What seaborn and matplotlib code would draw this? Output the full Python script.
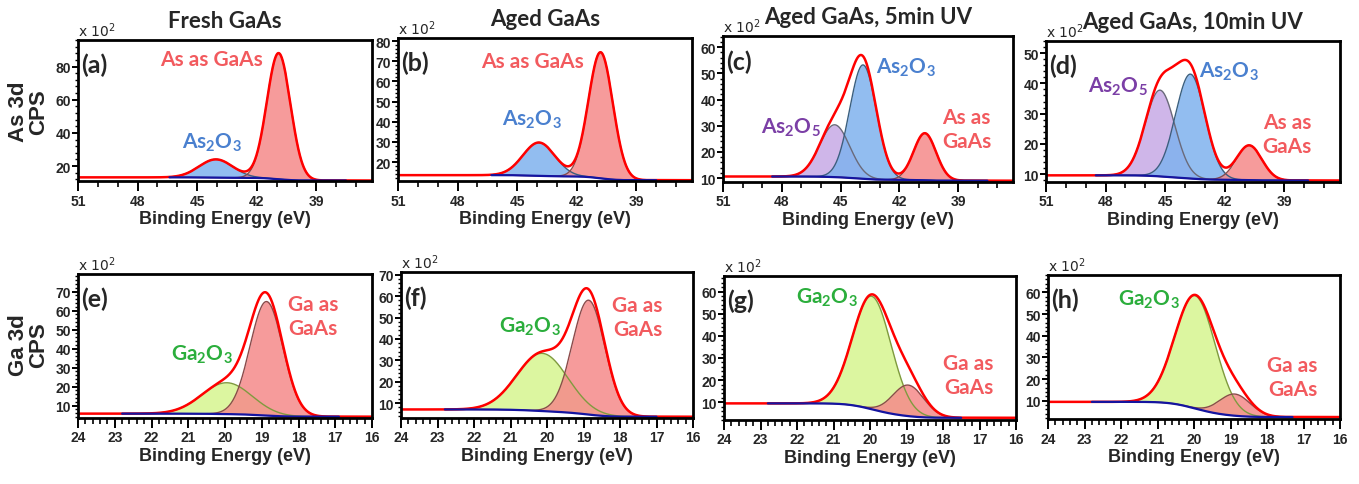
import numpy as np
import pandas as pd
import seaborn as sns
import matplotlib
matplotlib.use('Agg')
import matplotlib.pyplot as plt
from matplotlib.ticker import MultipleLocator, AutoMinorLocator

# ---- data (counts in units of 10^2 CPS, energies in eV) ----
titles = ['Fresh GaAs', 'Aged GaAs', 'Aged GaAs, 5min UV', 'Aged GaAs, 10min UV']
panel_tags = ['(a)', '(b)', '(c)', '(d)', '(e)', '(f)', '(g)', '(h)']

# fitted peaks: (centre, height above background, FWHM)
as_gaas = [(40.9, 76.0, 1.4), (40.8, 62.5, 1.45), (40.7, 18.0, 1.35), (40.77, 11.5, 1.5)]
as2o3 = [(44.05, 11.0, 2.0), (43.9, 16.5, 1.9), (43.85, 43.5, 1.6), (43.73, 34.5, 1.75)]
as2o5 = [None, None, (45.3, 20.0, 1.8), (45.26, 28.5, 1.75)]
as_bg_high = [13.2, 13.5, 10.6, 9.6]
as_bg_low = [11.3, 11.0, 9.0, 7.9]
as_window = [(37.5, 46.4), (38.0, 46.3), (37.5, 48.5), (37.8, 48.5)]
as_ylim = [(11, 96), (10.6, 81.5), (8.5, 64.3), (7.4, 54)]
as_ystep = [20, 10, 10, 10]

ga_gaas = [(18.87, 60.0, 1.05), (18.86, 53.5, 1.05), (18.95, 14.0, 1.0), (18.88, 10.0, 1.0)]
ga2o3 = [(19.95, 16.5, 1.6), (20.13, 27.0, 1.64), (19.95, 51.0, 1.25), (19.97, 52.0, 1.3)]
ga_bg_high = [5.8, 7.0, 9.5, 9.5]
ga_bg_low = [4.2, 3.6, 3.0, 2.5]
ga_window = [(16.9, 22.8), (17.0, 22.8), (17.5, 22.8), (17.3, 22.8)]
ga_ylim = [(3.5, 79.3), (3, 71.3), (2, 67), (1.6, 68)]

# ---- layout (pixel boxes: left, right, top, bottom) ----
W, H = 1359, 485
boxes = [(78, 372, 41, 182), (398, 692, 39, 182), (723, 1013, 37, 183), (1046, 1340, 42, 183),
         (78, 372, 275, 419), (401, 693, 273, 419), (724, 1016, 277, 421), (1048, 1340, 276, 420)]

sns.set_theme(style='ticks')
plt.rcParams['font.family'] = ['Liberation Sans', 'DejaVu Sans']
plt.rcParams['mathtext.fontset'] = 'custom'
plt.rcParams['mathtext.rm'] = 'Lato'
plt.rcParams['mathtext.default'] = 'regular'

RED_FILL, RED_EDGE = '#F58A8A', '#8B4A4A'
BLUE_FILL, BLUE_EDGE = '#7FB2EE', '#3A5F7F'
PURP_FILL, PURP_EDGE = '#C7A9E6', '#6A6A7A'
GREEN_FILL, GREEN_EDGE = '#D6F58F', '#7F9A3F'
LBL_RED, LBL_BLUE, LBL_PURP, LBL_GREEN = '#F25A5E', '#4A80CF', '#7B3FA6', '#2BAE3C'
TICK_FONT = dict(family=['Liberation Sans Narrow', 'Liberation Sans'], weight='bold', size=10)


def gauss(x, peak):
    c, a, w = peak
    return a * np.exp(-4 * np.log(2) * (x - c) ** 2 / w ** 2)


def draw_panel(ax, x, comps, hi, lo, window):
    # comps: list of (peak, fill, edge) in drawing order
    curves = [gauss(x, p) for p, _, _ in comps]
    total = np.sum(curves, axis=0)
    cum = np.cumsum(total)
    bg = lo + (hi - lo) * cum / cum[-1]   # Shirley-type background
    m = (x >= window[0]) & (x <= window[1])
    for (p, fill, edge), cv in zip(comps, curves):
        ax.fill_between(x[m], bg[m], bg[m] + cv[m], color=fill, alpha=0.85, lw=0)
    for (p, fill, edge), cv in zip(comps, curves):
        ax.plot(x[m], bg[m] + cv[m], color=edge, lw=1.0)
    env = pd.DataFrame({'E': x, 'cps': bg + total})
    sns.lineplot(data=env, x='E', y='cps', ax=ax, color='#FF0000', lw=1.8,
                 sort=False, estimator=None)
    base = pd.DataFrame({'E': x[m], 'cps': bg[m]})
    sns.lineplot(data=base, x='E', y='cps', ax=ax, color='#1414A0', lw=1.6,
                 sort=False, estimator=None)


def style_axes(ax, xlim, ylim, xmaj, xmin, ystep):
    ax.set_xlim(*xlim)
    ax.set_ylim(*ylim)
    ax.xaxis.set_major_locator(MultipleLocator(xmaj))
    ax.xaxis.set_minor_locator(MultipleLocator(xmin))
    ax.yaxis.set_major_locator(MultipleLocator(ystep))
    ax.yaxis.set_minor_locator(AutoMinorLocator(5))
    for s in ax.spines.values():
        s.set_linewidth(2.0)
        s.set_color('black')
    ax.tick_params(axis='x', which='major', length=7, width=1.4, pad=2, direction='out', color='black')
    ax.tick_params(axis='x', which='minor', length=4, width=1.2, direction='out', color='black')
    ax.tick_params(axis='y', which='major', length=4, width=1.4, pad=1, direction='out', color='black')
    ax.tick_params(axis='y', which='minor', length=2.5, width=1.0, direction='out', color='black')
    for lab in ax.get_xticklabels() + ax.get_yticklabels():
        lab.set_fontproperties(TICK_FONT)
    ax.set_xlabel('Binding Energy (eV)', fontsize=13, fontweight='bold', labelpad=2)
    ax.set_ylabel('')
    ax.text(0.0, 1.005, r'x 10$^2$', transform=ax.transAxes, ha='left', va='bottom',
            fontsize=10, family='Liberation Sans Narrow')


fig = plt.figure(figsize=(W / 100, H / 100), dpi=100)
axes = []
for (l, r, t, b) in boxes:
    axes.append(fig.add_axes([l / W, 1 - b / H, (r - l) / W, (b - t) / H]))

lab_font = dict(family=['Lato', 'DejaVu Sans'], fontsize=15, fontweight='bold')

# As 3d row
x_as = np.linspace(36.2, 51, 1200)
as_label_pos = [
    {'gaas': (0.454, 0.865), 'o3': (0.455, 0.277)},
    {'gaas': (0.457, 0.84), 'o3': (0.455, 0.434)},
    {'gaas': (0.84, 0.363), 'o3': (0.63, 0.786), 'o5': (0.234, 0.375)},
    {'gaas': (0.82, 0.34), 'o3': (0.623, 0.79), 'o5': (0.243, 0.683)},
]
for i in range(4):
    ax = axes[i]
    comps = []
    if as2o5[i] is not None:
        comps.append((as2o5[i], PURP_FILL, PURP_EDGE))
    comps.append((as2o3[i], BLUE_FILL, BLUE_EDGE))
    comps.append((as_gaas[i], RED_FILL, RED_EDGE))
    draw_panel(ax, x_as, comps, as_bg_high[i], as_bg_low[i], as_window[i])
    style_axes(ax, (51, 36.2), as_ylim[i], 3, 1, as_ystep[i])
    ax.set_title(titles[i], fontsize=16, fontweight='bold', family=['Lato', 'DejaVu Sans'], pad=9)
    pos = as_label_pos[i]
    gaas_txt = 'As as GaAs' if i < 2 else 'As as\nGaAs'
    ax.text(*pos['gaas'], gaas_txt, transform=ax.transAxes, ha='center', va='center',
            color=LBL_RED, linespacing=1.25, **lab_font)
    ax.text(*pos['o3'], r'As$_2$O$_3$', transform=ax.transAxes, ha='center', va='center',
            color=LBL_BLUE, **lab_font)
    if 'o5' in pos:
        ax.text(*pos['o5'], r'As$_2$O$_5$', transform=ax.transAxes, ha='center', va='center',
                color=LBL_PURP, **lab_font)

# Ga 3d row
x_ga = np.linspace(16, 24, 1200)
ga_label_pos = [
    {'gaas': (0.80, 0.71), 'o3': (0.42, 0.444)},
    {'gaas': (0.81, 0.695), 'o3': (0.44, 0.632)},
    {'gaas': (0.837, 0.314), 'o3': (0.354, 0.852)},
    {'gaas': (0.837, 0.29), 'o3': (0.346, 0.833)},
]
for i in range(4):
    ax = axes[4 + i]
    comps = [(ga2o3[i], GREEN_FILL, GREEN_EDGE), (ga_gaas[i], RED_FILL, RED_EDGE)]
    draw_panel(ax, x_ga, comps, ga_bg_high[i], ga_bg_low[i], ga_window[i])
    style_axes(ax, (24, 16), ga_ylim[i], 1, 0.2, 10)
    pos = ga_label_pos[i]
    ax.text(*pos['gaas'], 'Ga as\nGaAs', transform=ax.transAxes, ha='center', va='center',
            color=LBL_RED, linespacing=1.25, **lab_font)
    ax.text(*pos['o3'], r'Ga$_2$O$_3$', transform=ax.transAxes, ha='center', va='center',
            color=LBL_GREEN, **lab_font)

for ax, tag in zip(axes, panel_tags):
    ax.text(0.01, 0.83, tag, transform=ax.transAxes, ha='left', va='center',
            fontsize=18, fontweight='bold', family=['Lato', 'DejaVu Sans'])

fig.text(29 / W, 1 - 111.7 / H, 'As 3d\nCPS', rotation=90, ha='center', va='center',
         fontsize=16, fontweight='bold', linespacing=0.95, multialignment='center')
fig.text(29 / W, 1 - 345 / H, 'Ga 3d\nCPS', rotation=90, ha='center', va='center',
         fontsize=16, fontweight='bold', linespacing=0.95, multialignment='center')

fig.savefig('out.png', dpi=100, facecolor='white')
